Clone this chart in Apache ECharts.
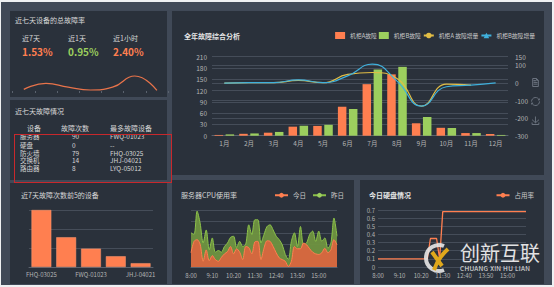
<!DOCTYPE html>
<html>
<head>
<meta charset="utf-8">
<script src="https://cdn.jsdelivr.net/npm/echarts@6/dist/echarts.min.js"></script>
<style>
html,body{margin:0;padding:0;width:554px;height:287px;overflow:hidden;background:#eef0f2;font-family:"Noto Sans CJK SC","Noto Sans",sans-serif;}
#bg{position:absolute;left:1px;top:2px;width:551px;height:283px;background:#404957;}
.panel{position:absolute;background:#2a313b;}
.ch{position:absolute;}
.txt{position:absolute;white-space:nowrap;color:#d6d6d6;font-size:7px;line-height:8px;}
.kpi{position:absolute;white-space:nowrap;font-size:10px;font-weight:bold;line-height:12px;}
#tbody{position:absolute;left:10px;top:134px;width:157px;height:45px;overflow:hidden;}
.row{position:absolute;left:0;width:157px;height:7px;font-size:6.5px;line-height:7px;color:#d6d6d6;white-space:nowrap;}
.row span{position:absolute;}
#redbox{position:absolute;left:14px;top:134px;width:156px;height:47px;border:1px solid #c8282c;}
#wm{position:absolute;left:418px;top:238px;width:136px;height:36px;}
</style>
</head>
<body>
<div id="bg"></div>
<div class="panel" style="left:10px;top:11px;width:157px;height:86px;"></div>
<div class="panel" style="left:10px;top:100px;width:157px;height:80px;"></div>
<div class="panel" style="left:10px;top:183px;width:157px;height:101px;"></div>
<div class="panel" style="left:172px;top:11px;width:372px;height:164px;"></div>
<div class="panel" style="left:172px;top:180px;width:182px;height:104px;"></div>
<div class="panel" style="left:360px;top:180px;width:184px;height:104px;"></div>

<div class="ch" id="rate" style="left:10px;top:11px;width:160px;height:86px;"></div>
<div class="txt" style="left:15px;top:16px;">近七天设备的总故障率</div>
<div class="txt" style="left:22px;top:34px;">近7天</div>
<div class="txt" style="left:68px;top:34px;">近1天</div>
<div class="txt" style="left:113px;top:34px;">近1小时</div>
<div class="kpi" id="k0" style="left:22px;top:46px;color:#ff7f50;"></div>
<div class="kpi" id="k1" style="left:68px;top:46px;color:#9ccf5e;"></div>
<div class="kpi" id="k2" style="left:113px;top:46px;color:#ff7f50;"></div>

<div class="txt" style="left:15px;top:107px;">近七天故障情况</div>
<div class="txt" style="left:27px;top:124px;">设备</div>
<div class="txt" style="left:61px;top:124px;">故障次数</div>
<div class="txt" style="left:110px;top:124px;">最多故障设备</div>
<div id="tbody"></div>
<div id="redbox"></div>

<div class="ch" id="top5" style="left:10px;top:183px;width:157px;height:101px;"></div>
<div class="ch" id="year" style="left:172px;top:11px;width:372px;height:164px;"></div>
<div class="ch" id="cpu" style="left:172px;top:180px;width:182px;height:104px;"></div>
<div class="ch" id="disk" style="left:360px;top:180px;width:184px;height:104px;"></div>

<div id="wm">
  <svg width="40" height="36" style="position:absolute;left:0;top:2px;">
    <path d="M26 6 A13 13 0 1 0 26 30" fill="none" stroke="#e8e8e8" stroke-width="4" opacity="0.9"/>
    <path d="M14 12 L24 26 M30 9 Q20 18 16 30" fill="none" stroke="#e0a81c" stroke-width="4"/>
  </svg>
  <div style="position:absolute;left:42px;top:4px;font-size:20px;line-height:22px;color:#f2f2f2;opacity:0.92;white-space:nowrap;">创新互联</div>
  <div style="position:absolute;left:42px;top:27px;font-size:6.5px;line-height:7px;color:#e8e8e8;white-space:nowrap;letter-spacing:0.3px;">CHUANG XIN HU LIAN</div>
</div>

<script>
var rateLabels = ['近7天', '近1天', '近1小时'];
var rateTexts = ['1.53%', '0.95%', '2.40%'];
var rateDays = ['1', '2', '3', '4', '5', '6', '7'];
var rateValues = [0.8, 3.8, 1.9, 0.5, 1.9, 7.5, 0.3];

var tableDevices = ['服务器', '硬盘', '防火墙', '交换机', '路由器'];
var tableCounts = ['90', '0', '79', '14', '8'];
var tableTop = ['FWQ-01023', '--', 'FHQ-03025', 'JHJ-04021', 'LYQ-05012'];

var topDevices = ['FHQ-03025', 'LYQ-05012', 'FWQ-01023', 'YP-02013', 'JHJ-04021'];
var topCounts = [90, 47, 29, 17, 6];

var months = ['1月', '2月', '3月', '4月', '5月', '6月', '7月', '8月', '9月', '10月', '11月', '12月'];
var cabinetA = [2, 5, 8, 24, 26, 77, 137, 163, 33, 21, 7, 4.5];
var cabinetB = [3.5, 6, 10, 26.5, 29, 71, 176, 183, 50, 20.5, 7, 2];
var incA = [0, 2, 2, 15, 2, 49, 60, 26, -131, -6, -12];
var incB = [0, 2, 2, 18, 2, 41, 108, 11, -131, -21, -12, 1];

var times = ['8:00','8:10','8:20','8:30','8:40','8:50','9:00','9:10','9:20','9:30','9:40','9:50',
    '10:00','10:10','10:20','10:30','10:40','10:50','11:00','11:10','11:20','11:30','11:40','11:50',
    '12:00','12:10','12:20','12:30','12:40','12:50','13:00','13:10','13:20','13:30','13:40','13:50',
    '14:00','14:10','14:20','14:30','14:40','14:50','15:00','15:10','15:20','15:30','15:40','15:50','16:00'];
var cpuToday = [25,45,48,40,10,30,11,20,13,10,17,23,27,36,23,32,26,13,36,34,23,44,45,13,33,
    46,45,36,25,16,13,10,1,10,36,32,32,42,39,32,26,23,22,25,33,25,30,48,39];
var cpuYesterday = [60,57,98,77,42,65,30,51,26,29,26,36,42,52,54,34,45,36,40,74,57,83,83,42,57,
    71,74,65,54,48,39,22,13,45,60,36,71,39,42,57,63,45,63,45,51,33,42,86,54];
var diskUsage = [0.1,0.1,0.1,0.1,0.1,0.1,0.1,0.1,0.1,0.1,0.1,0.1,0.1,0.1,0.1,0.1,0.1,
    0.35,0.35,0.35,0.1,0.68,0.68,0.68,0.68,0.68,0.68,0.68,0.68,0.68,0.68,0.68,0.68,0.68,
    0.68,0.68,0.68,0.68,0.68,0.68,0.68,0.68,0.68,0.68,0.68,0.68,0.68,0.68,0.68];

var FONT = '"Noto Sans CJK SC", "Noto Sans", sans-serif';
var ORANGE = '#ff7f50';
var GREEN = '#9ccf5e';
var SPLIT = '#454d59';
var LABEL = '#b4b4b4';

function fillText() {
    for (var i = 0; i < rateTexts.length; i++) {
        document.getElementById('k' + i).textContent = rateTexts[i];
    }
    var rowTops = [-1.5, 8, 15.5, 23, 30.5];
    var html = '';
    for (var j = 0; j < tableDevices.length; j++) {
        html += '<div class="row" style="top:' + rowTops[j] + 'px">' +
            '<span style="left:10px">' + tableDevices[j] + '</span>' +
            '<span style="left:62px">' + tableCounts[j] + '</span>' +
            '<span style="left:100px">' + tableTop[j] + '</span></div>';
    }
    document.getElementById('tbody').innerHTML = html;
}

function drawRate() {
    var myChart = echarts.init(document.getElementById('rate'), null, {renderer: 'svg'});
    var option = {
        animation: false,
        grid: {left: 2.7, right: 2, top: 60, bottom: 6},
        xAxis: {
            type: 'category',
            data: rateDays,
            boundaryGap: true,
            axisLine: {show: false},
            axisTick: {show: true, length: 2, lineStyle: {color: '#5a626e'}},
            axisLabel: {show: false}
        },
        yAxis: {type: 'value', min: 0, max: 10, show: false, splitLine: {show: false}},
        series: [{
            type: 'line',
            data: rateValues,
            smooth: true,
            showSymbol: false,
            lineStyle: {color: '#e8734a', width: 1.2}
        }]
    };
    myChart.setOption(option, true);
}

function drawTop5() {
    var myChart = echarts.init(document.getElementById('top5'), null, {renderer: 'svg'});
    var option = {
        animation: false,
        textStyle: {fontFamily: FONT},
        title: {
            text: '近7天故障次数前5的设备',
            left: 6, top: 3,
            textStyle: {fontSize: 7, color: '#d6d6d6', fontWeight: 'normal', fontFamily: FONT}
        },
        grid: {left: 19, right: 14, top: 27, bottom: 17},
        xAxis: {
            type: 'category',
            data: topDevices,
            axisLine: {lineStyle: {color: '#5a626e'}},
            axisTick: {show: false},
            axisLabel: {interval: 1, fontSize: 6, color: LABEL, margin: 4, fontFamily: FONT}
        },
        yAxis: {
            type: 'value', min: 0, max: 90, interval: 30,
            axisLabel: {show: false},
            axisLine: {show: false},
            axisTick: {show: false},
            splitLine: {lineStyle: {color: SPLIT}}
        },
        series: [{
            type: 'bar',
            data: topCounts,
            barWidth: '80%',
            itemStyle: {color: ORANGE, borderColor: '#ff9a73', borderWidth: 0.5}
        }]
    };
    myChart.setOption(option, true);
}

function drawYear() {
    var myChart = echarts.init(document.getElementById('year'), null, {renderer: 'svg'});
    var option = {
        animation: false,
        textStyle: {fontFamily: FONT},
        title: {
            text: '全年故障综合分析',
            left: 7, top: 16,
            textStyle: {fontSize: 7, color: '#e4e4e4', fontWeight: 'bold', fontFamily: FONT}
        },
        color: [ORANGE, GREEN, '#e2bd45', '#3fb0dc'],
        legend: {
            right: 4, top: 16,
            itemWidth: 10, itemHeight: 7, itemGap: 2,
            textStyle: {fontSize: 5.8, color: '#c8c8c8', fontFamily: FONT},
            data: [
                {name: '机柜A故障', icon: 'rect'},
                {name: '机柜B故障', icon: 'rect'},
                '机柜A 故障增量',
                '机柜B故障增量'
            ]
        },
        toolbox: {
            orient: 'vertical',
            right: 2, top: 65,
            padding: 0,
            itemSize: 8, itemGap: 6,
            iconStyle: {borderColor: '#6a727e'},
            feature: {
                dataView: {show: true},
                restore: {show: true},
                saveAsImage: {show: true}
            }
        },
        grid: {left: 40, right: 36, top: 45.7, bottom: 39.3},
        xAxis: {
            type: 'category',
            data: months,
            axisLine: {lineStyle: {color: '#5a626e'}},
            axisTick: {show: false},
            axisLabel: {fontSize: 6.5, color: LABEL, margin: 4, fontFamily: FONT}
        },
        yAxis: [{
            type: 'value', min: 0, max: 210, interval: 30,
            axisLine: {show: false},
            axisTick: {show: false},
            axisLabel: {fontSize: 6.5, color: LABEL, margin: 5},
            splitLine: {lineStyle: {color: SPLIT}}
        }, {
            type: 'value', min: -300, max: 150, interval: 100,
            axisLine: {show: false},
            axisTick: {show: false},
            axisLabel: {fontSize: 6.5, color: LABEL, margin: 7, showMaxLabel: true},
            splitLine: {lineStyle: {color: SPLIT}}
        }],
        series: [{
            name: '机柜A故障', type: 'bar', data: cabinetA, barWidth: 8.5, barGap: '30%'
        }, {
            name: '机柜B故障', type: 'bar', data: cabinetB, barWidth: 8.5, barGap: '30%'
        }, {
            name: '机柜A 故障增量', type: 'line', yAxisIndex: 1, data: incA, smooth: true,
            symbol: 'circle', symbolSize: 5, showSymbol: false, lineStyle: {width: 1.2}
        }, {
            name: '机柜B故障增量', type: 'line', yAxisIndex: 1, data: incB, smooth: true,
            symbol: 'triangle', symbolSize: 5, showSymbol: false, lineStyle: {width: 1.2}
        }]
    };
    myChart.setOption(option, true);
}

function drawCpu() {
    var myChart = echarts.init(document.getElementById('cpu'), null, {renderer: 'svg'});
    var option = {
        animation: false,
        textStyle: {fontFamily: FONT},
        title: {
            text: '服务器CPU使用率',
            left: 4, top: 6,
            textStyle: {fontSize: 7, color: '#d6d6d6', fontWeight: 'normal', fontFamily: FONT}
        },
        legend: {
            right: 5, top: 7,
            itemWidth: 13, itemHeight: 6, itemGap: 6,
            textStyle: {fontSize: 6.5, color: '#c8c8c8', fontFamily: FONT},
            data: ['今日', '昨日']
        },
        grid: {left: 19, right: 17, top: 30, bottom: 17},
        xAxis: {
            type: 'category',
            data: times,
            boundaryGap: false,
            axisLine: {lineStyle: {color: '#5a626e'}},
            axisTick: {show: false},
            axisLabel: {interval: 6, fontSize: 6, color: LABEL, margin: 5}
        },
        yAxis: {
            type: 'value', min: 0, max: 100, interval: 20,
            axisLabel: {show: false},
            axisLine: {show: false},
            axisTick: {show: false},
            splitLine: {lineStyle: {color: SPLIT}}
        },
        series: [{
            name: '今日', type: 'line', data: cpuToday, z: 3, smooth: 0.3,
            symbol: 'circle', showSymbol: false,
            itemStyle: {color: ORANGE},
            lineStyle: {color: ORANGE, width: 1},
            areaStyle: {color: '#d9663f', opacity: 0.95}
        }, {
            name: '昨日', type: 'line', data: cpuYesterday, z: 2, smooth: 0.3,
            symbol: 'circle', showSymbol: false,
            itemStyle: {color: GREEN},
            lineStyle: {color: '#8cc24a', width: 1},
            areaStyle: {color: '#6f9440', opacity: 0.95}
        }]
    };
    myChart.setOption(option, true);
}

function drawDisk() {
    var myChart = echarts.init(document.getElementById('disk'), null, {renderer: 'svg'});
    var option = {
        animation: false,
        textStyle: {fontFamily: FONT},
        title: {
            text: '今日硬盘情况',
            left: 4, top: 6,
            textStyle: {fontSize: 7, color: '#e4e4e4', fontWeight: 'bold', fontFamily: FONT}
        },
        legend: {
            right: 5, top: 7,
            itemWidth: 13, itemHeight: 6,
            textStyle: {fontSize: 6.5, color: '#c8c8c8', fontFamily: FONT},
            data: ['占用率']
        },
        grid: {left: 18, right: 18, top: 30, bottom: 17},
        xAxis: {
            type: 'category',
            data: times,
            boundaryGap: false,
            axisLine: {show: false},
            axisTick: {show: false},
            axisLabel: {interval: 6, fontSize: 6, color: LABEL, margin: 5}
        },
        yAxis: {
            type: 'value', min: 0, max: 0.7, interval: 0.1,
            axisLine: {show: false},
            axisTick: {show: false},
            axisLabel: {fontSize: 6, color: LABEL, margin: 3},
            splitLine: {lineStyle: {color: SPLIT}}
        },
        series: [{
            name: '占用率', type: 'line', data: diskUsage,
            symbol: 'circle', showSymbol: false,
            itemStyle: {color: ORANGE},
            lineStyle: {color: ORANGE, width: 1.3}
        }]
    };
    myChart.setOption(option, true);
}

fillText();
drawRate();
drawTop5();
drawYear();
drawCpu();
drawDisk();
</script>
</body>
</html>
